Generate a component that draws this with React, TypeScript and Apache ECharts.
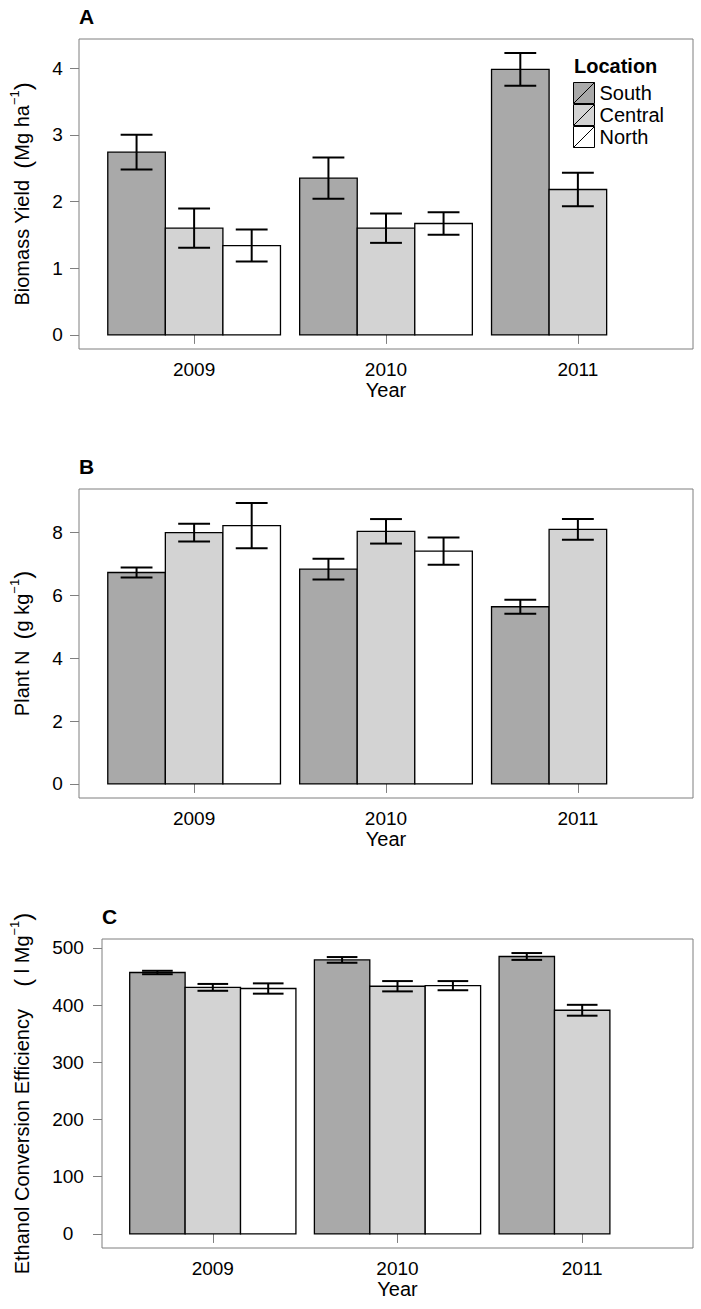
import React, { useEffect, useRef } from "react";
import * as echarts from "echarts";

// ---------- data ----------
const years = ["2009", "2010", "2011"];
const locations = ["South", "Central", "North"];
const locationColors = ["#A9A9A9", "#D3D3D3", "#FFFFFF"];

// Panel A: Biomass yield (Mg ha-1)
const biomassSouth = [2.74, 2.35, 3.98];
const biomassCentral = [1.6, 1.6, 2.18];
const biomassNorth = [1.34, 1.67, null];
const biomassSouthErr = [0.26, 0.31, 0.245];
const biomassCentralErr = [0.295, 0.22, 0.25];
const biomassNorthErr = [0.24, 0.17, null];

// Panel B: Plant N (g kg-1)
const plantNSouth = [6.73, 6.84, 5.64];
const plantNCentral = [8.0, 8.04, 8.1];
const plantNNorth = [8.22, 7.41, null];
const plantNSouthErr = [0.16, 0.33, 0.22];
const plantNCentralErr = [0.28, 0.39, 0.33];
const plantNNorthErr = [0.72, 0.43, null];

// Panel C: Ethanol conversion efficiency (l Mg-1)
const ethanolSouth = [457, 479, 485];
const ethanolCentral = [431, 433, 391];
const ethanolNorth = [429, 434, null];
const ethanolSouthErr = [3, 5, 6];
const ethanolCentralErr = [6, 9, 9.5];
const ethanolNorthErr = [9, 8, null];

const yTicksA = [0, 1, 2, 3, 4];
const yTicksB = [0, 2, 4, 6, 8];
const yTicksC = [0, 100, 200, 300, 400, 500];
const xTickValues = [1, 2, 3];

// ---------- layout / style ----------
const FONT = '"Liberation Sans", Arial, Helvetica, sans-serif';
const BORDER_GRAY = "#7f7f7f";
const TEXT = "#000";

const panels = [
  {
    letter: "A",
    grid: { left: 79, top: 39, width: 614, height: 310 },
    values: [biomassSouth, biomassCentral, biomassNorth],
    errors: [biomassSouthErr, biomassCentralErr, biomassNorthErr],
    ticks: yTicksA,
    yName: "{t|Biomass Yield  }{p|(}{t|Mg ha}{s|−1}{p|)}",
    nameGap: 43,
    labelMargin: 21.5,
  },
  {
    letter: "B",
    grid: { left: 79, top: 489, width: 614, height: 309 },
    values: [plantNSouth, plantNCentral, plantNNorth],
    errors: [plantNSouthErr, plantNCentralErr, plantNNorthErr],
    ticks: yTicksB,
    yName: "{t|Plant N  }{p|(}{t|g kg}{s|−1}{p|)}",
    nameGap: 43,
    labelMargin: 21.5,
  },
  {
    letter: "C",
    grid: { left: 102, top: 939, width: 591, height: 309 },
    values: [ethanolSouth, ethanolCentral, ethanolNorth],
    errors: [ethanolSouthErr, ethanolCentralErr, ethanolNorthErr],
    ticks: yTicksC,
    yName: "{t|Ethanol Conversion Efficiency    }{p|(}{t| l Mg}{s|−1}{p|)}",
    nameGap: 66,
    labelMargin: 34,
  },
];

const dodgeOffsets = [-0.3, 0, 0.3];
const BAR_HALF = 0.15;
const CAP_HALF = 0.083;

function buildOption() {
  const grids: any[] = [];
  const xAxes: any[] = [];
  const yAxes: any[] = [];
  const series: any[] = [];
  const graphics: any[] = [];

  panels.forEach((p, pi) => {
    grids.push({
      ...p.grid,
      show: true,
      borderColor: BORDER_GRAY,
      borderWidth: 1,
      backgroundColor: "transparent",
    });

    let maxTop = 0;
    p.values.forEach((arr, li) =>
      arr.forEach((v, i) => {
        if (v != null) maxTop = Math.max(maxTop, v + (p.errors[li][i] as number));
      })
    );

    xAxes.push({
      type: "value",
      gridIndex: pi,
      min: 0.4,
      max: 3.6,
      axisLine: { show: false },
      splitLine: { show: false },
      axisTick: {
        show: true,
        customValues: xTickValues,
        length: 9,
        lineStyle: { color: BORDER_GRAY, width: 1 },
      },
      axisLabel: {
        customValues: xTickValues,
        formatter: (v: number) => years[Math.round(v) - 1] ?? "",
        margin: 11,
        fontSize: 19,
        color: TEXT,
        fontFamily: FONT,
      },
      name: "Year",
      nameLocation: "middle",
      nameGap: 28,
      nameTextStyle: { fontSize: 20, color: TEXT, fontFamily: FONT },
    });

    yAxes.push({
      type: "value",
      gridIndex: pi,
      min: -0.05 * maxTop,
      max: 1.05 * maxTop,
      axisLine: { show: false },
      splitLine: { show: false },
      axisTick: {
        show: true,
        customValues: p.ticks,
        length: 9,
        lineStyle: { color: BORDER_GRAY, width: 1 },
      },
      axisLabel: {
        customValues: p.ticks,
        margin: p.labelMargin,
        align: "center",
        fontSize: 19,
        color: TEXT,
        fontFamily: FONT,
      },
      name: p.yName,
      nameLocation: "middle",
      nameRotate: 90,
      nameGap: p.nameGap,
      nameTextStyle: {
        fontFamily: FONT,
        color: TEXT,
        rich: {
          t: { fontSize: 20, lineHeight: 28, fontFamily: FONT, color: TEXT },
          p: { fontSize: 24, lineHeight: 28, fontFamily: FONT, color: TEXT },
          s: { fontSize: 13, lineHeight: 13, verticalAlign: "top", fontFamily: FONT, color: TEXT },
        },
      },
    });

    locations.forEach((loc, li) => {
      const data = years
        .map((_, i) =>
          p.values[li][i] == null ? null : [i + 1, p.values[li][i], p.errors[li][i]]
        )
        .filter((d) => d != null);
      const fill = locationColors[li];
      series.push({
        type: "custom",
        name: loc,
        xAxisIndex: pi,
        yAxisIndex: pi,
        clip: false,
        itemStyle: { color: fill, borderColor: "#000", borderWidth: 1 },
        data,
        renderItem: (_params: any, api: any) => {
          const x = api.value(0) + dodgeOffsets[li];
          const y = api.value(1);
          const e = api.value(2);
          const tl = api.coord([x - BAR_HALF, y]);
          const br = api.coord([x + BAR_HALF, 0]);
          const top = api.coord([x, y + e]);
          const bot = api.coord([x, y - e]);
          const capL = api.coord([x - CAP_HALF, 0])[0];
          const capR = api.coord([x + CAP_HALF, 0])[0];
          const lineStyle = { stroke: "#000", lineWidth: 2 };
          return {
            type: "group",
            children: [
              {
                type: "rect",
                shape: { x: tl[0], y: tl[1], width: br[0] - tl[0], height: br[1] - tl[1] },
                style: { fill, stroke: "#000", lineWidth: 1.3 },
              },
              { type: "line", shape: { x1: top[0], y1: top[1], x2: bot[0], y2: bot[1] }, style: lineStyle },
              { type: "line", shape: { x1: capL, y1: top[1], x2: capR, y2: top[1] }, style: lineStyle },
              { type: "line", shape: { x1: capL, y1: bot[1], x2: capR, y2: bot[1] }, style: lineStyle },
            ],
          };
        },
      });
    });

    graphics.push({
      type: "text",
      left: p.grid.left,
      top: p.grid.top - 33,
      style: {
        text: p.letter,
        fontSize: 21,
        fontWeight: "bold",
        fontFamily: FONT,
        fill: "#000",
      },
    });
  });

  graphics.push({
    type: "text",
    left: 574,
    top: 56,
    style: {
      text: "Location",
      fontSize: 20,
      fontWeight: "bold",
      fontFamily: FONT,
      fill: "#000",
    },
  });

  return {
    animation: false,
    backgroundColor: "#fff",
    grid: grids,
    xAxis: xAxes,
    yAxis: yAxes,
    series,
    graphic: graphics,
    legend: {
      data: locations,
      orient: "vertical",
      left: 573,
      top: 82,
      padding: 0,
      itemGap: 0,
      itemWidth: 21,
      itemHeight: 21,
      selectedMode: false,
      icon: "path://M0,0L20,0L20,20L0,20Z M0,20L20,0",
      itemStyle: { borderColor: "#000", borderWidth: 1 },
      textStyle: { fontSize: 20, color: TEXT, fontFamily: FONT },
    },
  };
}

export default function App() {
  const ref = useRef<HTMLDivElement>(null);
  useEffect(() => {
    if (!ref.current) return;
    const chart = echarts.init(ref.current, null, { renderer: "svg" });
    chart.setOption(buildOption() as any);
    return () => chart.dispose();
  }, []);
  return (
    <div
      ref={ref}
      style={{ position: "absolute", left: 0, top: 0, width: 701, height: 1309 }}
    />
  );
}
